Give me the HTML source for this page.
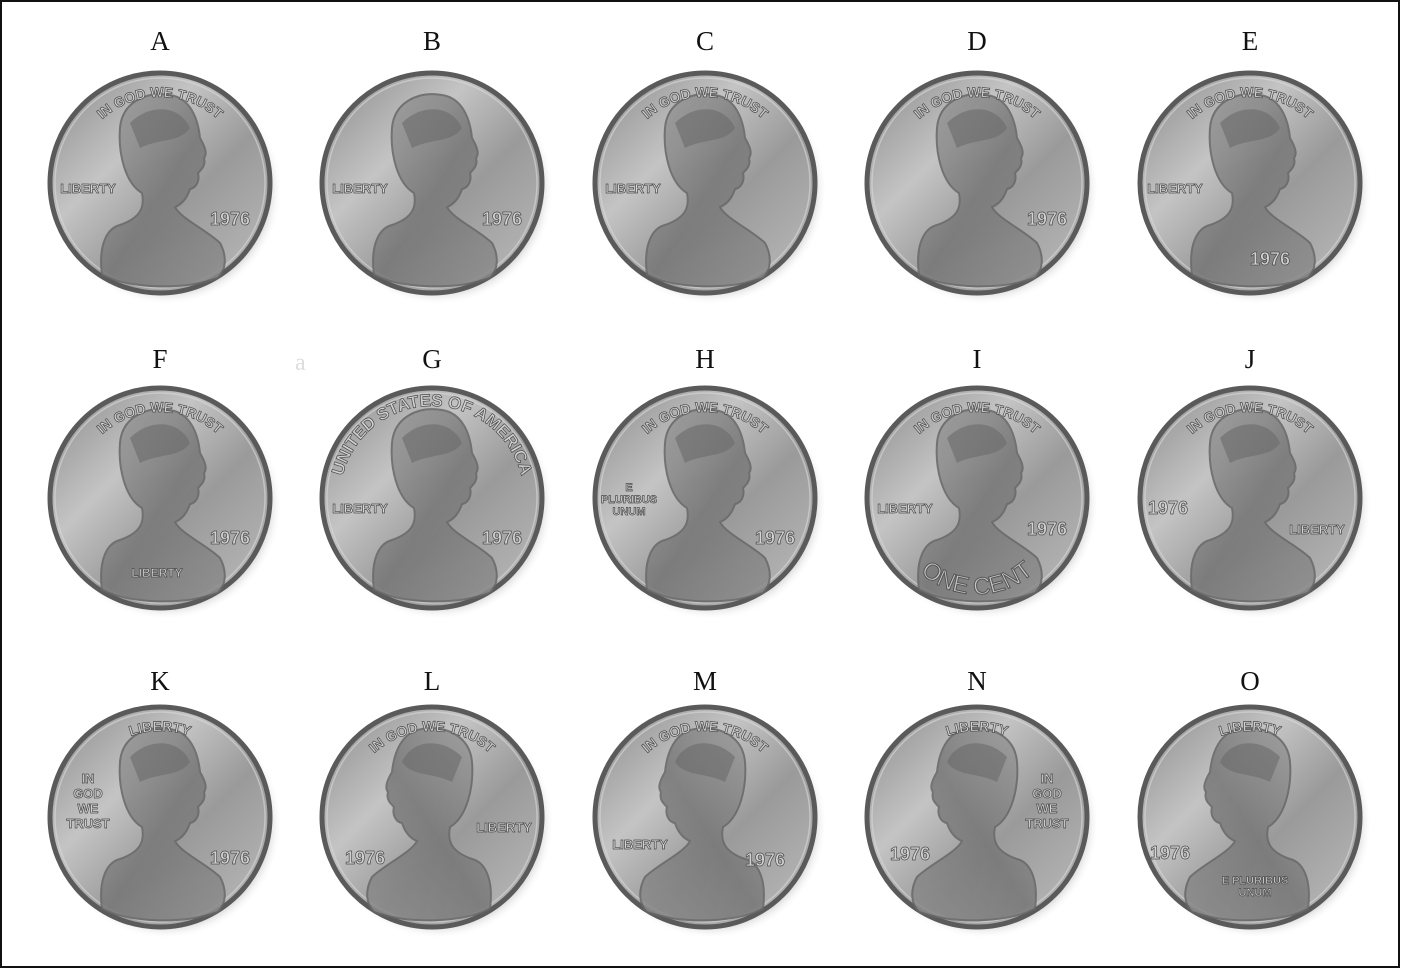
<!DOCTYPE html>
<html><head><meta charset="utf-8"><style>
html,body{margin:0;padding:0;background:#fff}
svg{display:block}
</style></head><body>
<svg id="s" width="1401" height="970" viewBox="0 0 1401 970" xmlns="http://www.w3.org/2000/svg">
<defs>
<linearGradient id="face" x1="0" y1="0" x2="1" y2="1">
<stop offset="0" stop-color="#8a8a8a"/><stop offset="0.35" stop-color="#c4c4c4"/><stop offset="0.6" stop-color="#9a9a9a"/><stop offset="1" stop-color="#bdbdbd"/>
</linearGradient>
<radialGradient id="shadow" cx="0.5" cy="0.5" r="0.5">
<stop offset="0.85" stop-color="#bbb"/><stop offset="1" stop-color="#fff" stop-opacity="0"/>
</radialGradient>
<linearGradient id="bust" x1="0" y1="0" x2="1" y2="1">
<stop offset="0" stop-color="#a0a0a0"/><stop offset="0.5" stop-color="#777"/><stop offset="1" stop-color="#8c8c8c"/>
</linearGradient>
</defs>
<rect x="1" y="1" width="1398" height="966" fill="#fff" stroke="#111" stroke-width="2"/>
<text x="295" y="370" font-family="Liberation Serif, serif" font-size="24" fill="#ddd">a</text>
<g id="coins"></g>
</svg>
<script>
const NS="http://www.w3.org/2000/svg";
const labels=["A","B","C","D","E","F","G","H","I","J","K","L","M","N","O"];
const colX=[160,432,705,977,1250];
const rowY=[183,498,817];
const labelY=[50,368,690];
const IGWT="IN GOD WE TRUST";
const coinCfg=[
 [false,IGWT,[["LIBERTY",-72,10,13],["1976",70,42,18]]],
 [false,"",[["LIBERTY",-72,10,13],["1976",70,42,18]]],
 [false,IGWT,[["LIBERTY",-72,10,13]]],
 [false,IGWT,[["1976",70,42,18]]],
 [false,IGWT,[["LIBERTY",-75,10,13],["1976",20,82,18]]],
 [false,IGWT,[["LIBERTY",-3,79,12],["1976",70,46,18]]],
 [false,"UNITED STATES OF AMERICA",[["LIBERTY",-72,15,13],["1976",70,46,18]]],
 [false,IGWT,[["E",-76,-7,11],["PLURIBUS",-76,5,11],["UNUM",-76,17,11],["1976",70,46,18]]],
 [false,IGWT,[["LIBERTY",-72,15,13],["1976",70,37,18]]],
 [false,IGWT,[["1976",-82,16,18],["LIBERTY",67,36,13]]],
 [false,"LIBERTY",[["IN",-72,-34,13],["GOD",-72,-19,13],["WE",-72,-4,13],["TRUST",-72,11,13],["1976",70,47,18]]],
 [true,IGWT,[["LIBERTY",72,15,13],["1976",-67,47,18]]],
 [true,IGWT,[["LIBERTY",-65,32,13],["1976",60,49,18]]],
 [true,"LIBERTY",[["IN",70,-34,13],["GOD",70,-19,13],["WE",70,-4,13],["TRUST",70,11,13],["1976",-67,43,18]]],
 [true,"LIBERTY",[["1976",-80,42,18],["E PLURIBUS",5,67,11],["UNUM",5,79,11]]]
];
const bustPath="M-58,92 C-62,60 -52,45 -40,42 C-20,35 -15,25 -18,10 C-35,0 -42,-30 -40,-55 C-38,-80 -15,-92 10,-88 C30,-85 38,-65 40,-45 C44,-38 48,-30 44,-25 C46,-18 42,-14 38,-10 C40,-2 36,5 30,6 C26,18 20,22 15,24 C20,35 48,48 60,60 C68,75 65,88 58,95 C20,108 -30,105 -58,92 Z";
const g=document.getElementById("coins");
function el(t,a,p){const e=document.createElementNS(NS,t);for(const k in a)e.setAttribute(k,a[k]);(p||g).appendChild(e);return e;}
coinCfg.forEach((c,i)=>{
 const cx=colX[i%5],cy=rowY[Math.floor(i/5)],L=labels[i];
 const lab=el("text",{x:cx,y:labelY[Math.floor(i/5)],"text-anchor":"middle","font-family":"Liberation Serif, serif","font-size":"27",fill:"#111"});
 lab.textContent=L;
 
 
 const grp=el("g",{transform:`translate(${cx},${cy})`});
 
 
 el("circle",{cx:6,cy:6,r:116,fill:"url(#shadow)"},grp);
 el("circle",{cx:0,cy:0,r:110,fill:"url(#face)",stroke:"#5a5a5a","stroke-width":"5"},grp);
 el("circle",{cx:0,cy:0,r:105,fill:"none",stroke:"#d8d8d8","stroke-width":"1.5",opacity:"0.6"},grp);
 el("path",{d:bustPath,fill:"url(#bust)",stroke:"#666","stroke-width":"2",transform:c[0]?"scale(-1,1)":"",opacity:"0.85"},grp);
 el("path",{d:"M-30,-60 C-10,-80 20,-78 30,-55 C20,-40 0,-45 -20,-35 Z",fill:"#6a6a6a",opacity:"0.6",transform:c[0]?"scale(-1,1)":""},grp);
 if(c[1]){
  const big=c[1].length>16;
  const r=big?92:86;
  const id="arc"+i;
  el("path",{id:id,d:`M${-r},0 A${r},${r} 0 0 1 ${r},0`,fill:"none"},grp);
  const t=el("text",{"font-family":"Liberation Sans, sans-serif","font-size":big?"17":"14","font-weight":"bold",fill:"#d0d0d0",stroke:"#4a4a4a","stroke-width":"0.7","text-anchor":"middle"},grp);
  const tp=el("textPath",{href:"#"+id,startOffset:"50%"},t);
  tp.textContent=c[1];
  
  
 }
 c[2].forEach(tx=>{
  const t=el("text",{x:tx[1],y:tx[2],"text-anchor":"middle","font-family":"Liberation Sans, sans-serif","font-size":tx[3],"font-weight":"bold",fill:"#d4d4d4",stroke:"#4a4a4a","stroke-width":"0.7"},grp);
  t.textContent=tx[0];
  
  
 });
 if(L==="I"){
  el("path",{id:"arcI",d:"M-80,40 A85,85 0 0 0 80,40",fill:"none"},grp);
  const t=el("text",{"font-family":"Liberation Sans, sans-serif","font-size":"24",fill:"#c8c8c8",stroke:"#555","stroke-width":"1","text-anchor":"middle"},grp);
  const tp=el("textPath",{href:"#arcI",startOffset:"50%"},t);
  tp.textContent="ONE CENT";
  
  
 }
});
</script>
</body></html>
